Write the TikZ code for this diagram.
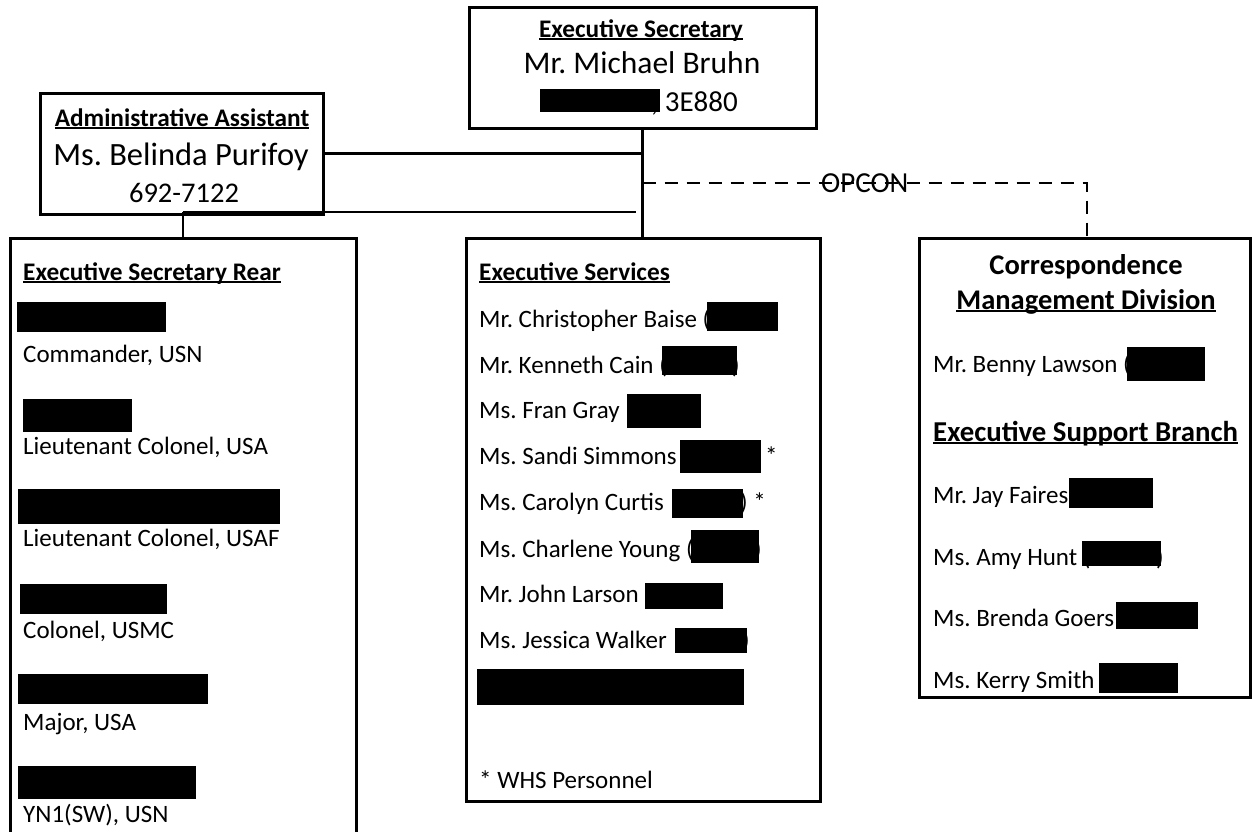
\documentclass[tikz,border=0pt]{standalone}
\usepackage{fontspec}
\setmainfont{Carlito}
\frenchspacing
\newcommand{\ulhead}[1]{\setbox0\hbox{#1}\rlap{\rule[-0.12em]{\wd0}{0.07em}}\box0}

\begin{document}
\begin{tikzpicture}[x=1pt, y=-1pt,
                    orgbox/.style={draw, line width=3pt, inner sep=0pt},
                    link/.style={line width=2.4pt},
                    opcon/.style={line width=2.4pt, dash pattern=on 13pt off 9pt},
                    rowtext/.style={anchor=base west, inner sep=0pt, font=\fontsize{25}{30}\selectfont},
                    headtext/.style={anchor=base west, inner sep=0pt, font=\fontsize{25.3}{30}\selectfont\bfseries},
                    redact/.style={fill=black}]

  \useasboundingbox (0,0) rectangle (1252,831);
  \clip (0,0) rectangle (1252,831);

  % === Boxes ===
  \node[orgbox, minimum width=347pt, minimum height=121pt] (es) at (642.5,67.5) {};
  \node[orgbox, minimum width=283pt, minimum height=121pt] (admin) at (181.5,153.5) {};
  \node[orgbox, minimum width=346pt, minimum height=610pt] (rear) at (183,543) {};
  \node[orgbox, minimum width=354pt, minimum height=563pt] (svc) at (643,519.5) {};
  \node[orgbox, minimum width=331pt, minimum height=459pt] (cmd) at (1084.5,467.5) {};

  % === Connectors ===
  \coordinate (lowend) at (636,212);
  \coordinate (opcend) at (1087,183);
  \draw[link] (es.south) -- (es.south |- svc.north);
  \draw[link] (admin.east) -- (admin.east -| es.south);
  \draw[link] (rear.north) -- (rear.north |- lowend);
  \draw[link] (rear.north |- lowend) -- (lowend);
  \draw[opcon] (es.south |- opcend) -- node[inner sep=0pt, font=\fontsize{29}{34}\selectfont] (opclbl) {OPCON} (opcend) -- (opcend |- cmd.north);

  % === Executive Secretary ===
  \node[anchor=base, inner sep=0pt, font=\fontsize{25.3}{30}\selectfont\bfseries] (esttl) at (641,37) {\ulhead{Executive Secretary}};
  \node[anchor=base, inner sep=0pt, font=\fontsize{31.5}{37}\selectfont] (esname) at (642,73) {Mr. Michael Bruhn};
  \node[anchor=base east, inner sep=0pt, font=\fontsize{29}{34}\selectfont] (esroom) at (738,111) {, 3E880};
  \fill[redact] (540,89) rectangle (660,112);

  % === Administrative Assistant ===
  \node[anchor=base, inner sep=0pt, font=\fontsize{25.3}{30}\selectfont\bfseries] (adttl) at (182,126) {\ulhead{Administrative Assistant}};
  \node[anchor=base, inner sep=0pt, font=\fontsize{32.5}{38}\selectfont] (adname) at (181,165) {Ms. Belinda Purifoy};
  \node[anchor=base, inner sep=0pt, font=\fontsize{28.5}{33}\selectfont] (adphone) at (184,202) {692-7122};

  % === Executive Secretary Rear ===
  \node[headtext] (rearttl) at (23,280) {\ulhead{Executive Secretary Rear}};
  \foreach \yb/\rank/\xa/\ya/\xb/\yc in {362/{Commander, USN}/17/302/166/332,
      454/{Lieutenant Colonel, USA}/23/399/132/432,
      546/{Lieutenant Colonel, USAF}/18/489/280/524,
      638/{Colonel, USMC}/20/584/167/614,
      730/{Major, USA}/18/674/208/704,
      822/{YN1(SW), USN}/18/766/196/799} {
    \node[rowtext] (rear\yb) at (23,\yb) {\rank};
    \fill[redact] (\xa,\ya) rectangle (\xb,\yc);
  }

  % === Executive Services ===
  \node[headtext] (svcttl) at (479,280) {\ulhead{Executive Services}};
  \node[rowtext] (cainp) at (732,373) {)};
  \node[rowtext] (simstar) at (765,464) {*};
  \node[rowtext] (curtp) at (740,510) {) *};
  \node[rowtext] (youngp) at (754,557) {)};
  \node[rowtext] (walkp) at (742,648) {)};
  \foreach \yb/\who/\xa/\ya/\xb/\yc in {327/{Mr. Christopher Baise (}/707/302/778/331,
      373/{Mr. Kenneth Cain (}/662/346/737/375,
      418/{Ms. Fran Gray}/627/394/701/428,
      464/{Ms. Sandi Simmons}/680/440/761/473,
      510/{Ms. Carolyn Curtis}/672/489/743/518,
      557/{Ms. Charlene Young (}/691/530/759/563,
      602/{Mr. John Larson}/645/583/723/609,
      648/{Ms. Jessica Walker}/675/628/747/653} {
    \node[rowtext] (svc\yb) at (479,\yb) {\who};
    \fill[redact] (\xa,\ya) rectangle (\xb,\yc);
  }
  \fill[redact] (477,669) rectangle (744,705);
  \node[rowtext] (whs) at (479,788) {* WHS Personnel};

  % === Correspondence Management Division ===
  \node[anchor=base, inner sep=0pt, font=\fontsize{28.5}{34}\selectfont\bfseries] (cmdttl) at (1086,274) {Correspondence};
  \node[anchor=base, inner sep=0pt, font=\fontsize{28.5}{34}\selectfont\bfseries] (cmdsub) at (1086,309) {\ulhead{Management Division}};
  \node[anchor=base west, inner sep=0pt, font=\fontsize{28.8}{34}\selectfont\bfseries] (esbttl) at (933,441) {\ulhead{Executive Support Branch}};
  \node[rowtext] (huntp) at (1156,565) {)};
  \foreach \yb/\who/\xa/\ya/\xb/\yc in {372/{Mr. Benny Lawson (}/1127/347/1205/381,
      503/{Mr. Jay Faires}/1069/478/1153/508,
      565/{Ms. Amy Hunt (}/1082/541/1161/566,
      626/{Ms. Brenda Goers}/1116/602/1198/629,
      688/{Ms. Kerry Smith}/1099/663/1178/693} {
    \node[rowtext] (cmd\yb) at (933,\yb) {\who};
    \fill[redact] (\xa,\ya) rectangle (\xb,\yc);
  }

\end{tikzpicture}
\end{document}
